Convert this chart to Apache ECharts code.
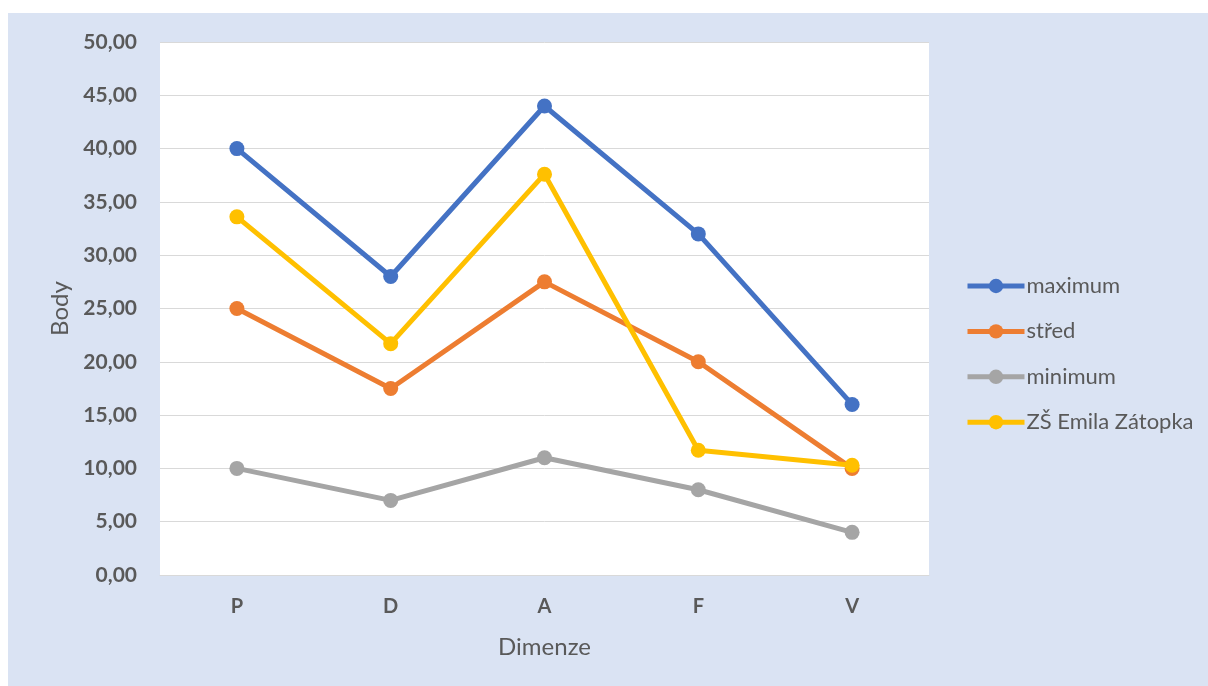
<!DOCTYPE html>
<html>
<head>
<meta charset="utf-8">
<script src="https://cdn.jsdelivr.net/npm/echarts@6/dist/echarts.min.js"></script>
<style>
html,body{margin:0;padding:0;background:#ffffff;width:1208px;height:686px;overflow:hidden;}
#chart{position:absolute;left:8px;top:13px;width:1200px;height:673px;background:#DAE3F3;}
</style>
</head>
<body>
<div id="chart"></div>
<script>
const categories = ['P', 'D', 'A', 'F', 'V'];
const maximum = [40, 28, 44, 32, 16];
const stred = [25, 17.5, 27.5, 20, 10];
const minimum = [10, 7, 11, 8, 4];
const zsEmilaZatopka = [33.6, 21.7, 37.6, 11.7, 10.3];
const seriesNames = ['maximum', 'střed', 'minimum', 'ZŠ Emila Zátopka'];
const colors = ['#4472C4', '#ED7D31', '#A5A5A5', '#FFC000'];
const seriesData = [maximum, stred, minimum, zsEmilaZatopka];

const font = 'Lato, "Open Sans", sans-serif';
const chart = echarts.init(document.getElementById('chart'), null, {renderer: 'canvas'});
chart.setOption({
  backgroundColor: '#DAE3F3',
  animation: false,
  grid: {left: 152, top: 29, right: 279, bottom: 111, backgroundColor: '#ffffff', show: true, borderWidth: 0},
  legend: {
    orient: 'vertical', left: 952, top: 257, itemWidth: 57, itemHeight: 18, itemGap: 23.4,
    lineStyle: {width: 5},
    textStyle: {fontFamily: font, fontSize: 22, lineHeight: 18, color: '#595959', padding: [0, 0, 0, -3]},
    data: seriesNames
  },
  xAxis: {
    type: 'category', data: categories, boundaryGap: true,
    name: 'Dimenze', nameLocation: 'middle', nameGap: 60,
    nameTextStyle: {fontFamily: font, fontSize: 24, color: '#595959'},
    axisLine: {lineStyle: {color: '#D9D9D9', width: 1}},
    axisTick: {show: false},
    axisLabel: {fontFamily: font, fontSize: 20, fontWeight: 'bold', color: '#595959', margin: 22}
  },
  yAxis: {
    type: 'value', min: 0, max: 50, interval: 5,
    name: 'Body', nameLocation: 'middle', nameGap: 86, nameRotate: 90,
    nameTextStyle: {fontFamily: font, fontSize: 24, color: '#595959'},
    axisLine: {show: false}, axisTick: {show: false},
    splitLine: {lineStyle: {color: '#D9D9D9', width: 1}},
    axisLabel: {fontFamily: font, fontSize: 21, fontWeight: 'bold', color: '#595959', margin: 23,
      formatter: v => v.toFixed(2).replace('.', ',')}
  },
  series: seriesNames.map((n, i) => ({
    name: n, type: 'line', data: seriesData[i],
    symbol: 'circle', symbolSize: 15,
    lineStyle: {width: 5, color: colors[i]},
    itemStyle: {color: colors[i]},
    z: 2 + (i === 3 ? 1 : 0)
  }))
});
</script>
</body>
</html>
